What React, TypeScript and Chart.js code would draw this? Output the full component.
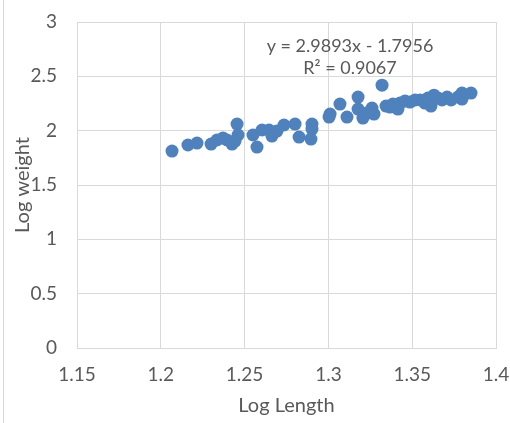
import React, { useEffect, useRef } from "react";
import { Chart, registerables } from "chart.js";

Chart.register(...registerables);

const logLength: number[] = [
  1.2067, 1.2162, 1.2216, 1.23, 1.2335, 1.2371, 1.2395, 1.2425, 1.2443, 1.2455,
  1.2461, 1.255, 1.2574, 1.2604, 1.2646, 1.2663, 1.2693, 1.2735, 1.2801, 1.2825,
  1.2902, 1.2902, 1.2896, 1.3004, 1.301, 1.3069, 1.3111, 1.3177, 1.3177, 1.3206,
  1.323, 1.326, 1.3272, 1.332, 1.3344, 1.3368, 1.3385, 1.3415, 1.3427, 1.3457,
  1.3487, 1.3517, 1.3547, 1.3576, 1.3594, 1.3612, 1.363, 1.3654, 1.3678, 1.3708,
  1.3732, 1.3773, 1.3797, 1.3797, 1.3851,
];
const logWeight: number[] = [
  1.812, 1.868, 1.886, 1.877, 1.914, 1.932, 1.914, 1.877, 1.904, 2.061,
  1.96, 1.96, 1.849, 2.006, 2.006, 1.95, 1.996, 2.052, 2.061, 1.941,
  2.061, 2.015, 1.923, 2.125, 2.153, 2.245, 2.125, 2.309, 2.199, 2.116,
  2.162, 2.208, 2.153, 2.419, 2.226, 2.217, 2.245, 2.199, 2.254, 2.272,
  2.263, 2.282, 2.282, 2.254, 2.3, 2.226, 2.327, 2.3, 2.282, 2.309,
  2.282, 2.309, 2.346, 2.291, 2.346,
];
const equationLines: string[] = ["y = 2.9893x - 1.7956", "R² = 0.9067"];
const equationAnchor = { x: 1.3129, y: [2.778, 2.576] };

const FONT = "Lato, 'Open Sans', sans-serif";
const TEXT = "#595959";
const GRID = "#D9D9D9";

const fmt = (v: any) => String(Math.round(Number(v) * 100) / 100);

const equationPlugin = {
  id: "equationLabel",
  afterDatasetsDraw(chart: any) {
    const { ctx, scales } = chart;
    ctx.save();
    ctx.font = `18px ${FONT}`;
    ctx.fillStyle = TEXT;
    ctx.textAlign = "center";
    ctx.textBaseline = "middle";
    equationLines.forEach((line, i) => {
      const px = scales.x.getPixelForValue(equationAnchor.x);
      const py = scales.y.getPixelForValue(equationAnchor.y[i]);
      ctx.fillText(line, px, py);
    });
    ctx.restore();
  },
};

export default function App() {
  const ref = useRef<HTMLCanvasElement | null>(null);
  useEffect(() => {
    if (!ref.current) return;
    const chart = new Chart(ref.current, {
      type: "scatter",
      data: {
        datasets: [
          {
            data: logLength.map((x, i) => ({ x, y: logWeight[i] })),
            backgroundColor: "#4F81BD",
            borderColor: "#4F81BD",
            borderWidth: 0,
            pointRadius: 6.5,
          },
        ],
      },
      options: {
        animation: false,
        responsive: true,
        maintainAspectRatio: false,
        layout: { padding: { top: 22, right: 14, left: 0, bottom: 0 } },
        plugins: { legend: { display: false }, tooltip: { enabled: false } },
        scales: {
          x: {
            type: "linear",
            min: 1.15,
            max: 1.4,
            afterFit: (s: any) => {
              s.height = 75;
              s.paddingLeft = 0;
              s.paddingRight = 0;
            },
            ticks: {
              stepSize: 0.05,
              padding: 15,
              color: TEXT,
              font: { family: FONT, size: 19 },
              callback: fmt,
            },
            grid: { color: GRID, drawTicks: false, lineWidth: 1 },
            border: { color: GRID },
            title: {
              display: true,
              text: "Log Length",
              color: TEXT,
              font: { family: FONT, size: 20 },
              padding: { top: 0, bottom: 5 },
            },
          },
          y: {
            type: "linear",
            min: 0,
            max: 3,
            afterFit: (s: any) => {
              s.width = 77;
              s.paddingTop = 0;
              s.paddingBottom = 0;
            },
            ticks: {
              stepSize: 0.5,
              padding: 20,
              color: TEXT,
              font: { family: FONT, size: 19 },
              callback: fmt,
            },
            grid: { color: GRID, drawTicks: false, lineWidth: 1 },
            border: { display: false },
            title: {
              display: true,
              text: "Log weight",
              color: TEXT,
              font: { family: FONT, size: 20 },
              padding: { top: 11, bottom: 0 },
            },
          },
        },
      },
      plugins: [equationPlugin],
    });
    return () => chart.destroy();
  }, []);

  return (
    <div style={{ position: "fixed", left: 0, top: 0, width: 510, height: 423, background: "#fff" }}>
      <div style={{ position: "absolute", left: 3, top: 0, width: 1, height: 423, background: GRID }} />
      <canvas ref={ref} />
    </div>
  );
}
